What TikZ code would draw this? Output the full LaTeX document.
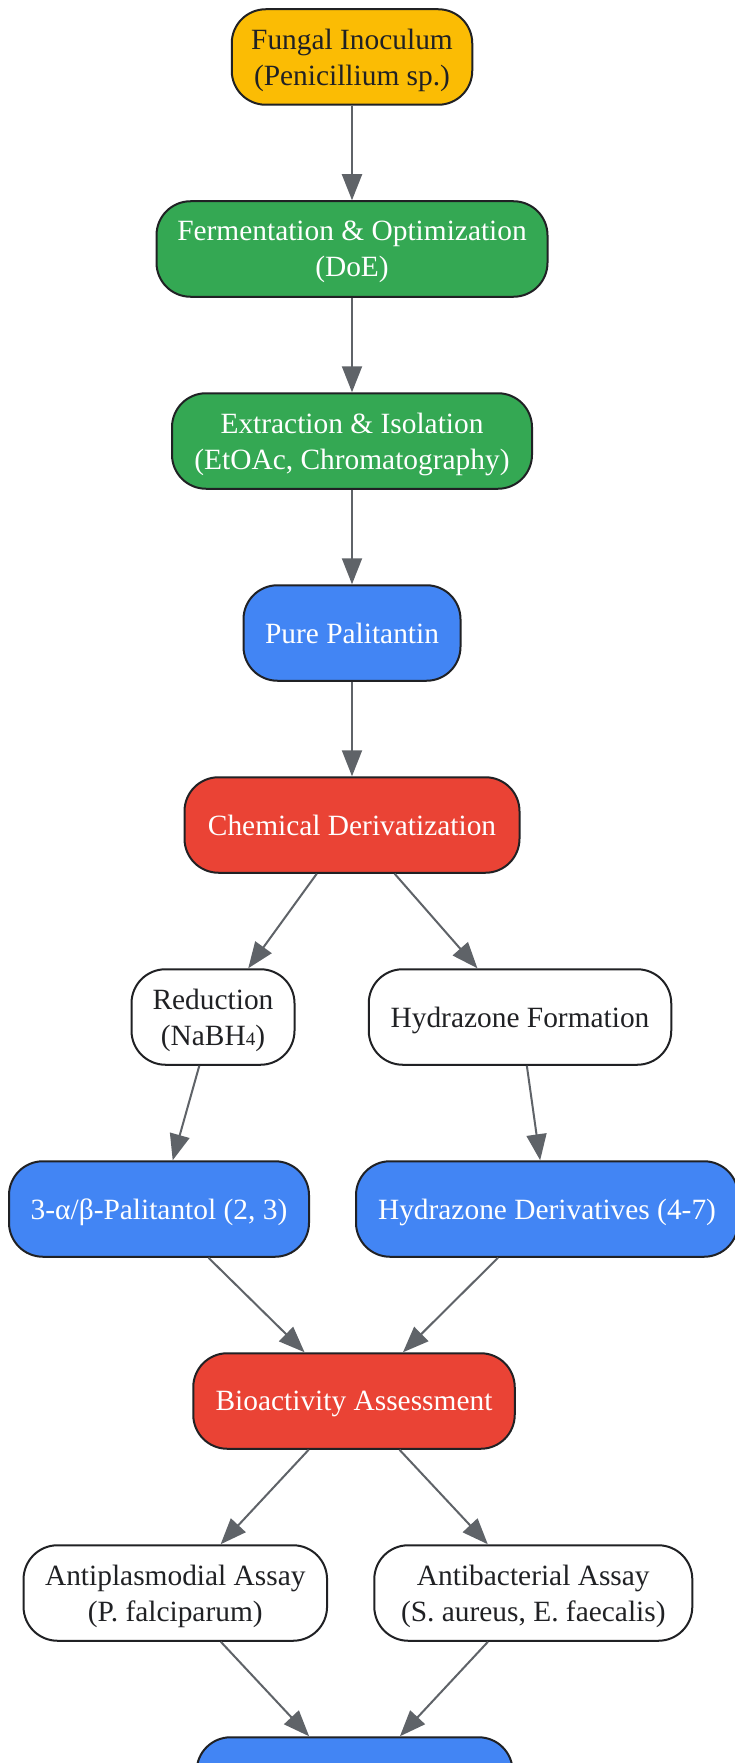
\documentclass[tikz,border=0pt]{standalone}
\usepackage{fontspec}
\setmainfont{Liberation Serif}
\usetikzlibrary{arrows.meta}
\definecolor{cyellow}{HTML}{FBBC04}
\definecolor{cgreen}{HTML}{34A853}
\definecolor{cblue}{HTML}{4285F4}
\definecolor{cred}{HTML}{EA4335}
\definecolor{cborder}{HTML}{202124}
\definecolor{cedge}{HTML}{5F6368}
\definecolor{ctext}{HTML}{202124}
\newcommand{\subfour}{{\fontsize{19}{19}\selectfont 4}}
\begin{document}
\begin{tikzpicture}[x=1pt,y=-1pt,
  box/.style={draw=cborder, line width=2pt, rounded corners=34pt,
    minimum height=95.5pt, inner sep=0pt, align=center, text depth=0pt,
    font=\fontsize{29.4}{36}\selectfont},
  yel/.style={box, fill=cyellow, text=ctext},
  grn/.style={box, fill=cgreen, text=white},
  blu/.style={box, fill=cblue, text=white},
  rd/.style={box, fill=cred, text=white},
  wht/.style={box, fill=white, text=ctext},
  arr/.style={draw=cedge, line width=2pt, -{Triangle[length=26pt,width=20pt]}}]
\useasboundingbox (0,0) rectangle (735,1763);
\clip (0,0) rectangle (735,1763);
\fill[white] (0,0) rectangle (735,1763);
\node[yel, minimum width=240.5pt] (fungal) at (352,57) {Fungal Inoculum\\(Penicillium sp.)};
\node[grn, minimum width=391pt] (ferm) at (352,249) {Fermentation \& Optimization\\(DoE)};
\node[grn, minimum width=360pt] (extr) at (352,441) {Extraction \& Isolation\\(EtOAc, Chromatography)};
\node[blu, minimum width=217pt] (pure) at (352,633) {Pure Palitantin};
\node[rd, minimum width=335pt] (chem) at (352,825) {Chemical Derivatization};
\node[wht, minimum width=163pt] (red) at (213,1017) {Reduction\\(NaBH\subfour)};
\node[wht, minimum width=302.5pt] (hform) at (520,1017) {Hydrazone Formation};
\node[blu, minimum width=300pt] (palit) at (159,1209) {3-α/β-Palitantol (2, 3)};
\node[blu, minimum width=382pt] (hder) at (547,1209) {Hydrazone Derivatives (4-7)};
\node[rd, minimum width=321.5pt] (bio) at (354,1401) {Bioactivity Assessment};
\node[wht, minimum width=303.5pt] (antip) at (175.3,1593) {Antiplasmodial Assay\\(P. falciparum)};
\node[wht, minimum width=318pt] (antib) at (533.3,1593) {Antibacterial Assay\\(S. aureus, E. faecalis)};
\node[blu, minimum width=316pt] (final) at (354.6,1785) {};
\draw[arr] (fungal) -- (ferm);
\draw[arr] (ferm) -- (extr);
\draw[arr] (extr) -- (pure);
\draw[arr] (pure) -- (chem);
\draw[arr] (chem) -- (red);
\draw[arr] (chem) -- (hform);
\draw[arr] (red) -- (palit);
\draw[arr] (hform) -- (hder);
\draw[arr] (palit) -- (bio);
\draw[arr] (hder) -- (bio);
\draw[arr] (bio) -- (antip);
\draw[arr] (bio) -- (antib);
\draw[arr] (antip) -- (final);
\draw[arr] (antib) -- (final);
\end{tikzpicture}
\end{document}
